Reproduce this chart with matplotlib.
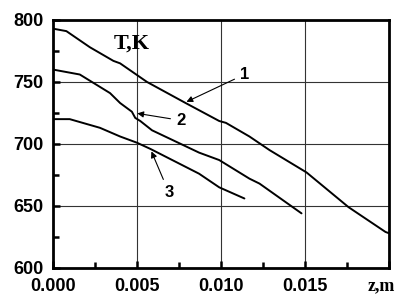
import matplotlib
matplotlib.use('Agg')
from matplotlib import pyplot as plt

# 数据
z1 = [0, 0.0008, 0.0022, 0.0036, 0.0040, 0.0056, 0.0079, 0.0099, 0.0103, 0.0117, 0.0129, 0.0151, 0.0176, 0.0198, 0.0200]
t1 = [793, 791, 778, 767, 765, 750, 733, 718.5, 717, 706, 695, 677, 649, 629, 628]

z2 = [0, 0.0016, 0.0034, 0.0040, 0.0047, 0.0049, 0.0052, 0.0059, 0.0087, 0.0099, 0.0117, 0.0123, 0.0148]
t2 = [760, 756, 741, 733, 726, 721, 718.5, 711, 693, 687, 672, 668, 644]

z3 = [0, 0.0010, 0.0028, 0.0040, 0.0050, 0.0058, 0.0087, 0.0099, 0.0114]
t3 = [720, 720, 713, 706, 701, 696, 676, 665, 656]

x_ticks = [0, 0.005, 0.010, 0.015, 0.020]
x_labels = ['0.000', '0.005', '0.010', '0.015', '']
y_ticks = [600, 650, 700, 750, 800]

fig = plt.figure(figsize=(3.98, 2.98), dpi=100)
ax = fig.add_axes([0.133, 0.101, 0.844, 0.832])

for z, t in [(z1, t1), (z2, t2), (z3, t3)]:
    ax.plot(z, t, color='black', lw=1.4, solid_capstyle='round', solid_joinstyle='round')

ax.set_xlim(0, 0.02)
ax.set_ylim(600, 800)
ax.set_xticks(x_ticks)
ax.set_xticklabels(x_labels)
ax.set_yticks(y_ticks)
ax.set_xticks([0.0025, 0.0075, 0.0125, 0.0175], minor=True)
ax.set_yticks([625, 675, 725, 775], minor=True)
ax.grid(True, which='major', color='#333333', lw=0.8)

ax.tick_params(which='both', direction='in', width=1.8, top=False, right=False)
ax.tick_params(which='major', length=5, pad=7)
ax.tick_params(which='minor', length=4)
for lab in ax.get_xticklabels() + ax.get_yticklabels():
    lab.set_fontfamily('Liberation Sans')
    lab.set_fontweight('bold')
    lab.set_fontsize(13)

# 横轴单位放在最后一个刻度处
ax.annotate('z,m', xy=(1, 0), xycoords='axes fraction', xytext=(4.5, -7),
            textcoords='offset points', ha='right', va='top',
            family='Liberation Serif', weight='bold', fontsize=13)

for s in ax.spines.values():
    s.set_linewidth(2)

ax.text(0.0047, 781, 'T,K', family='Liberation Serif', weight='bold', fontsize=16,
        ha='center', va='center')

arrow = dict(arrowstyle='-|>', color='black', lw=0.8, mutation_scale=9)
ax.annotate('1', xy=(0.0078, 733), xytext=(0.0114, 756), fontsize=12, weight='bold',
            family='Liberation Sans', ha='center', va='center', arrowprops=arrow)
ax.annotate('2', xy=(0.00486, 725), xytext=(0.0076, 719), fontsize=12, weight='bold',
            family='Liberation Sans', ha='center', va='center', arrowprops=arrow)
ax.annotate('3', xy=(0.0058, 696), xytext=(0.0069, 661), fontsize=12, weight='bold',
            family='Liberation Sans', ha='center', va='center', arrowprops=arrow)

fig.savefig('out.png', dpi=100)
